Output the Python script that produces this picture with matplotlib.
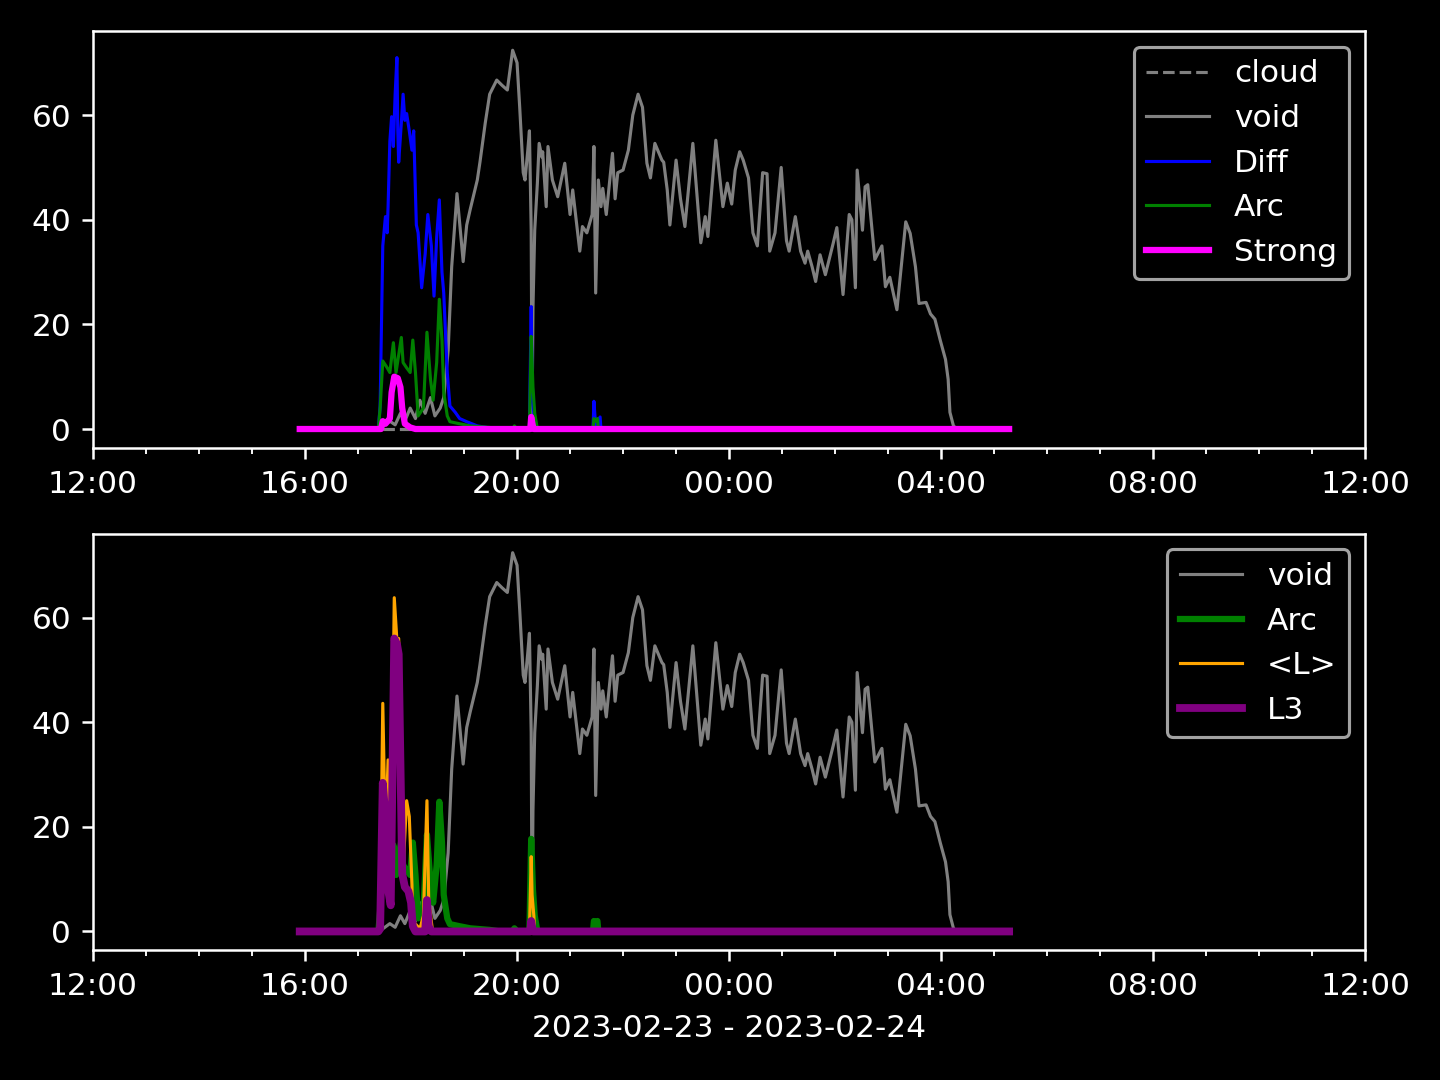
import datetime as dt
import matplotlib
matplotlib.use('Agg')
import matplotlib.pyplot as plt
import matplotlib.dates as mdates

plt.style.use('dark_background')

day0 = dt.datetime(2023, 2, 23)

# readings (HH:MM, before noon means next day)
cloud_t = ["15:54", "05:17"]
cloud_v = [0, 0]

void_t = ["15:54", "17:23", "17:28", "17:36", "17:42", "17:48", "17:53", "17:59", "18:05", "18:10",
          "18:16", "18:22", "18:27", "18:33", "18:37", "18:42", "18:46", "18:52", "18:59", "19:03",
          "19:07", "19:15", "19:18", "19:24", "19:29", "19:37", "19:43", "19:49", "19:52", "19:55",
          "20:00", "20:03", "20:07", "20:09", "20:12", "20:14", "20:16", "20:17", "20:18", "20:20",
          "20:23", "20:25", "20:28", "20:29", "20:33", "20:35", "20:40", "20:43", "20:46", "20:54",
          "21:00", "21:03", "21:11", "21:14", "21:19", "21:25", "21:27", "21:29", "21:32", "21:35",
          "21:37", "21:41", "21:48", "21:51", "21:54", "22:00", "22:06", "22:11", "22:17", "22:22",
          "22:27", "22:31", "22:36", "22:40", "22:44", "22:46", "22:50", "22:53", "23:00", "23:05",
          "23:10", "23:19", "23:28", "23:33", "23:36", "23:45", "23:53", "23:58", "00:03", "00:07",
          "00:12", "00:16", "00:22", "00:27", "00:32", "00:38", "00:43", "00:46", "00:52", "00:59",
          "01:05", "01:08", "01:15", "01:21", "01:26", "01:29", "01:34", "01:38", "01:43", "01:49",
          "01:58", "02:02", "02:09", "02:16", "02:19", "02:23", "02:25", "02:31", "02:34", "02:37",
          "02:45", "02:53", "02:57", "03:02", "03:10", "03:20", "03:25", "03:31", "03:35", "03:43",
          "03:48", "03:53", "03:59", "04:05", "04:08", "04:10", "04:14", "04:18", "05:17"]
void_v = [0, 0, 0.5, 1.5, 0.8, 3, 1.5, 4, 2, 5.5,
          3, 6, 2.5, 4, 6, 15, 31, 45, 32, 39,
          42, 47.6, 51, 58.5, 64, 66.7, 65.7, 64.8, 68.6, 72.4,
          70, 61.5, 49, 47.6, 53, 57, 38, 2, 23, 38,
          47, 54.6, 52, 53, 42.5, 54, 47.6, 46, 44.4, 50.8,
          41, 45.7, 34, 38.7, 37.5, 41, 54, 26, 47.6, 42.5,
          46, 41, 52.7, 44, 49, 49.5, 53.3, 60, 64, 61.5,
          50.8, 48, 54.6, 53, 51.4, 51, 45.7, 39, 51.4, 44,
          38.7, 54.6, 35.6, 40.6, 36.8, 55.2, 42.5, 47, 43, 49.5,
          53, 51.4, 48, 37.5, 35, 49, 48.8, 34, 37.5, 50,
          36, 34, 40.6, 34, 31.7, 34, 31, 28.2, 33.3, 29.5,
          35.6, 38.5, 25.7, 41, 40, 27, 49.5, 38, 46.3, 46.7,
          32.4, 35, 27.2, 29, 22.8, 39.6, 37.4, 31, 24, 24.2,
          22, 21, 17, 13.3, 9.5, 3.2, 0.6, 0, 0]

diff_t = ["15:54", "17:23", "17:25", "17:28", "17:31", "17:33", "17:34", "17:36", "17:38", "17:40",
          "17:42", "17:44", "17:45", "17:46", "17:49", "17:51", "17:53", "17:55", "17:58", "18:01",
          "18:03", "18:06", "18:08", "18:12", "18:16", "18:19", "18:23", "18:26", "18:29", "18:32",
          "18:35", "18:37", "18:41", "18:44", "18:50", "18:55", "19:03", "19:15", "19:29", "19:41",
          "20:14", "20:15", "20:16", "20:17", "20:18", "20:20", "20:23", "21:26", "21:27", "21:29",
          "21:34", "21:35", "05:17"]
diff_v = [0, 0, 4.4, 35, 40.6, 37.5, 42.5, 55, 59.7, 54,
          64, 71, 57, 51, 58.5, 64, 59, 60.3, 57, 53.3,
          57, 39, 37.5, 27, 33.5, 41, 35, 25.4, 36.6, 43.8,
          30, 26, 10.8, 4.4, 3.2, 2, 1.4, 0.6, 0.2, 0,
          0, 12, 23.4, 10, 5, 1, 0, 0, 5.3, 0.5,
          2.3, 0, 0]

arc_t = ["15:54", "17:23", "17:25", "17:28", "17:33", "17:36", "17:40", "17:43", "17:49", "17:51",
         "17:55", "17:59", "18:02", "18:05", "18:08", "18:14", "18:18", "18:22", "18:25", "18:29",
         "18:32", "18:35", "18:37", "18:41", "18:44", "18:55", "19:07", "19:29", "19:41", "19:55",
         "19:57", "20:00", "20:14", "20:16", "20:18", "20:20", "20:23", "21:26", "21:27", "21:29",
         "21:31", "21:32", "05:17"]
arc_v = [0, 0, 4, 13, 11.7, 10.8, 16.5, 10.8, 17.5, 12.7,
         11.7, 10.8, 17, 10.8, 2.5, 4, 18.5, 9.5, 5.5, 12.7,
         24.8, 17, 7, 2.5, 1.4, 1.0, 0.6, 0.3, 0, 0,
         0.6, 0, 0, 17.7, 8, 3, 0, 0, 2, 1.5,
         2, 0, 0]

strong_t = ["15:54", "17:26", "17:28", "17:31", "17:36", "17:38", "17:41", "17:45", "17:48", "17:50",
            "17:53", "17:59", "18:05", "20:15", "20:16", "20:18", "20:19", "05:17"]
strong_v = [0, 0, 1.5, 1, 2, 7, 10, 9.7, 8, 4,
            1, 0.3, 0, 0, 2.3, 0.5, 0, 0]

lmean_t = ["15:54", "17:23", "17:25", "17:28", "17:31", "17:34", "17:37", "17:41", "17:44", "17:46",
           "17:50", "17:51", "17:55", "17:58", "18:01", "18:02", "18:10", "18:14", "18:18", "18:20",
           "18:24", "18:30", "20:14", "20:16", "20:17", "20:19", "20:20", "05:17"]
lmean_v = [0, 0, 1.7, 43.6, 17.5, 32.8, 7, 63.8, 55.6, 56,
           27, 12, 25, 22, 9, 2, 0.5, 3, 25, 6,
           0.5, 0, 0, 14.3, 7, 3, 0, 0]

l3_t = ["15:54", "17:23", "17:25", "17:28", "17:31", "17:34", "17:37", "17:41", "17:44", "17:46",
        "17:50", "17:53", "17:57", "18:00", "18:02", "18:05", "18:16", "18:18", "18:20", "18:23",
        "20:15", "20:16", "20:18", "05:17"]
l3_v = [0, 0, 0.5, 28.4, 22, 8, 5, 56, 55, 53,
        11, 8.5, 7.7, 5.5, 1, 0, 0, 6, 1, 0,
        0, 2, 0, 0]


def to_dt(labels):
    out = []
    for s in labels:
        h, m = [int(p) for p in s.split(':')]
        d = day0 if h >= 12 else day0 + dt.timedelta(days=1)
        out.append(d.replace(hour=h, minute=m))
    return out


fig, (ax1, ax2) = plt.subplots(2, 1, figsize=(6.4, 4.8), dpi=225)

ax1.plot(to_dt(cloud_t), cloud_v, color='gray', linestyle='--', linewidth=1, label='cloud')
ax1.plot(to_dt(void_t), void_v, color='gray', linewidth=1, label='void')
ax1.plot(to_dt(diff_t), diff_v, color='blue', linewidth=1, label='Diff')
ax1.plot(to_dt(arc_t), arc_v, color='green', linewidth=1, label='Arc')
ax1.plot(to_dt(strong_t), strong_v, color='magenta', linewidth=2, label='Strong')
ax1.legend(loc='upper right')

ax2.plot(to_dt(void_t), void_v, color='gray', linewidth=1, label='void')
ax2.plot(to_dt(arc_t), arc_v, color='green', linewidth=2, label='Arc')
ax2.plot(to_dt(lmean_t), lmean_v, color='orange', linewidth=1, label='<L>')
ax2.plot(to_dt(l3_t), l3_v, color='purple', linewidth=2.5, label='L3')
ax2.legend(loc='upper right')
ax2.set_xlabel('2023-02-23 - 2023-02-24')

for ax in (ax1, ax2):
    ax.set_xlim(day0.replace(hour=12), day0 + dt.timedelta(days=1, hours=12))
    ax.xaxis.set_major_locator(mdates.HourLocator(byhour=[0, 4, 8, 12, 16, 20]))
    ax.xaxis.set_minor_locator(mdates.HourLocator())
    ax.xaxis.set_major_formatter(mdates.DateFormatter('%H:%M'))

plt.subplots_adjust(left=0.0646, right=0.948, top=0.971, bottom=0.12, hspace=0.206)
plt.savefig('out.png')
